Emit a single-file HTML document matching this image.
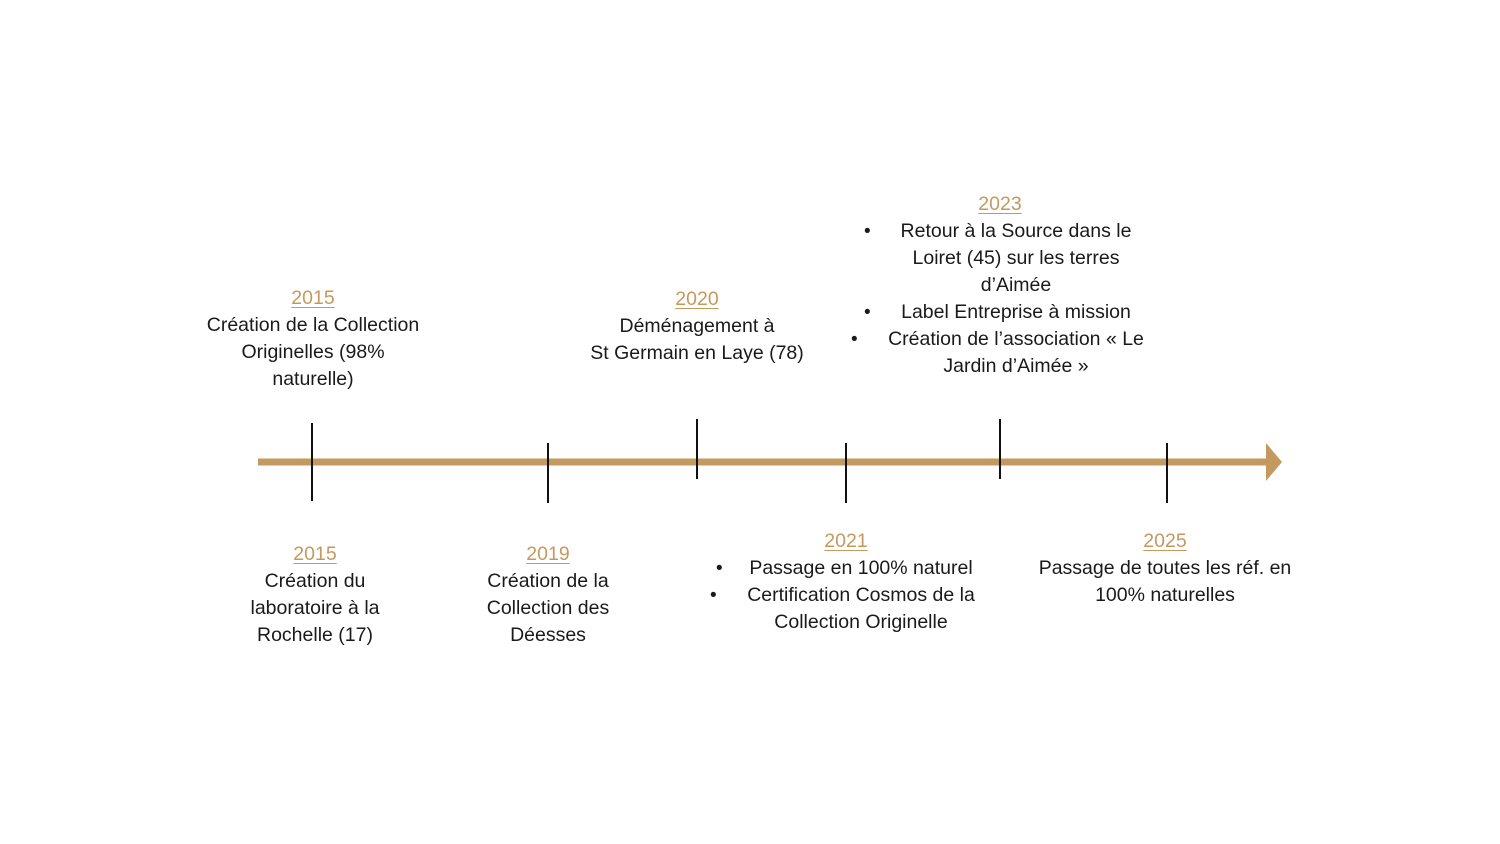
<!DOCTYPE html>
<html><head><meta charset="utf-8"><style>
body{margin:0;width:1500px;height:844px;background:#fff;position:relative;overflow:hidden;font-family:"Liberation Sans",sans-serif;color:#1a1a1a}
.t{position:absolute;width:400px;margin-left:-200px;text-align:center;font-size:19.5px;line-height:27px;white-space:nowrap}
.y{color:#c4995f;text-decoration:underline;text-decoration-thickness:1px;text-underline-offset:3px}
.b{position:absolute;font-size:19px;line-height:27px}
</style></head><body>
<svg width="1500" height="844" style="position:absolute;left:0;top:0">
<line x1="258" y1="462" x2="1268" y2="462" stroke="#c4995f" stroke-width="7"/>
<polygon points="1266,443 1282,462 1266,481" fill="#c4995f"/>
<g stroke="#111" stroke-width="2">
<line x1="312" y1="423" x2="312" y2="501"/>
<line x1="548" y1="443" x2="548" y2="503"/>
<line x1="697" y1="419" x2="697" y2="479"/>
<line x1="846" y1="443" x2="846" y2="503"/>
<line x1="1000" y1="419" x2="1000" y2="479"/>
<line x1="1167" y1="443" x2="1167" y2="503"/>
</g></svg>

<div class="t" style="left:313px;top:285px"><span class="y">2015</span><br>Création de la Collection<br>Originelles (98%<br>naturelle)</div>
<div class="t" style="left:697px;top:286px"><span class="y">2020</span><br>Déménagement à<br>St Germain en Laye (78)</div>
<div class="t" style="left:1000px;top:191px"><span class="y">2023</span></div>
<div class="t" style="left:1016px;top:218px">Retour à la Source dans le<br>Loiret (45) sur les terres<br>d’Aimée<br>Label Entreprise à mission<br>Création de l’association « Le<br>Jardin d’Aimée »</div>
<div class="b" style="left:864px;top:218px">•</div>
<div class="b" style="left:864px;top:299px">•</div>
<div class="b" style="left:851px;top:326px">•</div>

<div class="t" style="left:315px;top:541px"><span class="y">2015</span><br>Création du<br>laboratoire à la<br>Rochelle (17)</div>
<div class="t" style="left:548px;top:541px"><span class="y">2019</span><br>Création de la<br>Collection des<br>Déesses</div>
<div class="t" style="left:846px;top:528px"><span class="y">2021</span></div>
<div class="t" style="left:861px;top:555px">Passage en 100% naturel<br>Certification Cosmos de la<br>Collection Originelle</div>
<div class="b" style="left:716px;top:555px">•</div>
<div class="b" style="left:710px;top:582px">•</div>
<div class="t" style="left:1165px;top:528px"><span class="y">2025</span><br>Passage de toutes les réf. en<br>100% naturelles</div>
</body></html>
